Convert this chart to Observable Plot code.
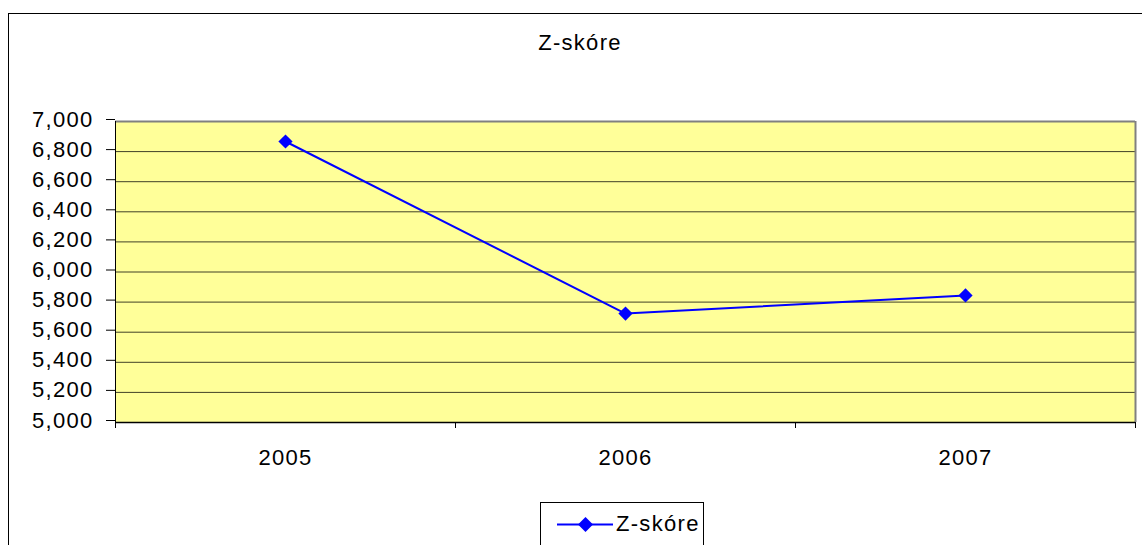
<!DOCTYPE html>
<html>
<head>
<meta charset="utf-8">
<script src="https://cdn.jsdelivr.net/npm/d3@7"></script>
<script src="https://cdn.jsdelivr.net/npm/@observablehq/plot@0.6"></script>
<style>
  html, body { margin: 0; padding: 0; background: #fff; overflow: hidden; }
  #wrap { position: relative; width: 1142px; height: 545px; overflow: hidden; font-family: "Liberation Sans", Arial, sans-serif; color: #000; }
  #frame { position: absolute; left: 8px; top: 13px; width: 1200px; height: 600px; border: 1px solid #000; box-sizing: border-box; }
  #title { position: absolute; left: 11px; width: 1138px; top: 32px; text-align: center; font-size: 22px; line-height: 22px; letter-spacing: 1.3px; }
  #legend { position: absolute; left: 540px; top: 502px; width: 164px; height: 60px; border: 1px solid #000; box-sizing: border-box; background: #fff; }
  #legend svg { position: absolute; left: 0; top: 0; }
  #legend span { position: absolute; left: 75px; top: 10px; font-size: 22px; line-height: 22px; letter-spacing: 1.3px; white-space: nowrap; }
  #chart { position: absolute; left: 0; top: 0; }
  #chart svg { letter-spacing: 1.3px; }
</style>
</head>
<body>
<div id="wrap">
  <div id="frame"></div>
  <div id="chart"></div>
  <div id="title">Z-skóre</div>
  <div id="legend">
    <svg width="162" height="60"><line x1="16" y1="21.5" x2="72" y2="21.5" stroke="#0000FF" stroke-width="2"/><path d="M44.5,14 L52,21.5 L44.5,29 L37,21.5 Z" fill="#0000FF"/></svg>
    <span>Z-skóre</span>
  </div>
</div>
<script>
const years = ["2005", "2006", "2007"];
const zScore = [6867, 5724, 5844];
const yTicks = [5000, 5200, 5400, 5600, 5800, 6000, 6200, 6400, 6600, 6800, 7000];
const seriesName = "Z-skóre";

const data = years.map((y, i) => ({year: y, idx: i + 0.5, value: zScore[i]}));
const fmt = d3.format(",.0f");

const chart = Plot.plot({
  width: 1142,
  height: 545,
  marginLeft: 115,
  marginRight: 7,
  marginTop: 121,
  marginBottom: 123,
  style: {fontFamily: "'Liberation Sans', Arial, sans-serif", fontSize: "22px", background: "transparent", color: "#000"},
  x: {domain: [0, years.length], axis: null, label: null},
  y: {domain: [5000, 7000], axis: null, label: null},
  marks: [
    Plot.frame({fill: "#FFFF99", stroke: null}),
    Plot.gridY(yTicks, {stroke: "#000", strokeOpacity: 0.75, strokeWidth: 1}),
    Plot.ruleY([7000], {stroke: "#808080", strokeWidth: 2}),
    Plot.ruleX([years.length], {stroke: "#808080", strokeWidth: 2}),
    Plot.axisY(yTicks, {label: null, tickFormat: fmt, tickSize: 9, tickPadding: 13, dy: -2, fontSize: 22, stroke: "#000"}),
    Plot.axisX(d3.range(years.length + 1), {label: null, tickSize: 6, tickFormat: () => "", stroke: "#000"}),
    Plot.axisX(data.map(d => d.idx), {label: null, tickSize: 0, tickPadding: 27, tickFormat: (d, i) => years[i], fontSize: 22}),
    Plot.ruleY([5000], {stroke: "#000", strokeWidth: 1.5}),
    Plot.ruleX([0], {stroke: "#000", strokeWidth: 1}),
    Plot.line(data, {x: "idx", y: "value", stroke: "#0000FF", strokeWidth: 2}),
    Plot.dot(data, {x: "idx", y: "value", symbol: "diamond2", r: 6.4, fill: "#0000FF", stroke: null})
  ]
});
document.getElementById("chart").appendChild(chart);
</script>
</body>
</html>
